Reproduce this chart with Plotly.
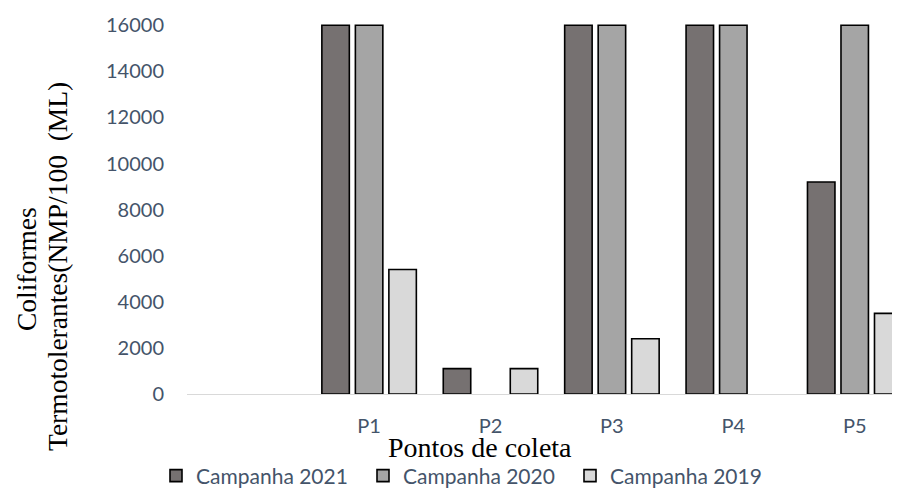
import plotly.graph_objects as go

categories = ["", "P1", "P2", "P3", "P4", "P5"]
campanha_2021 = [None, 16000, 1100, 16000, 16000, 9200]
campanha_2020 = [None, 16000, None, 16000, 16000, 16000]
campanha_2019 = [None, 5400, 1100, 2400, None, 3500]
series_names = ["Campanha 2021", "Campanha 2020", "Campanha 2019"]
series_colors = ["#767171", "#A5A5A5", "#D9D9D9"]
y_ticks = [0, 2000, 4000, 6000, 8000, 10000, 12000, 14000, 16000]
y_tick_labels = [str(v) for v in y_ticks]

fig = go.Figure()
for name, vals, col in zip(series_names, [campanha_2021, campanha_2020, campanha_2019], series_colors):
    fig.add_trace(go.Bar(
        x=categories, y=vals, name=name,
        marker=dict(color=col, line=dict(color="#000000", width=1.6)),
    ))

slate = "#44546A"
OFF = 8  # page body margin
W, H = 900 - OFF, 488 - OFF
# plot area in page coordinates
PL, PR, PT, PB = 187, 900, 16, 394
L, R, T, B = PL - OFF, (W + OFF) - PR, PT - OFF, (H + OFF) - PB
pw = PR - PL
ph = PB - PT

def px(x):
    return (x - PL) / pw

def py(y):
    return (PB - y) / ph

fig.update_layout(
    template="none",
    width=W, height=H,
    margin=dict(l=L, r=R, t=T, b=B, pad=0, autoexpand=False),
    plot_bgcolor="white", paper_bgcolor="white",
    barmode="group", bargap=0.172, bargroupgap=0.18,
    showlegend=True,
    legend=dict(orientation="h", x=px(156), y=py(476), xanchor="left", yanchor="middle",
                font=dict(family="Lato", size=21, color=slate), itemwidth=30,
                entrywidth=162, entrywidthmode="pixels",
                traceorder="normal", bgcolor="rgba(0,0,0,0)"),
    xaxis=dict(type="category", range=[-0.5, 5.373], showgrid=False, showline=True,
               linecolor="#D9D9D9", linewidth=1.3, ticks="", ticklabelstandoff=14,
               automargin=False,
               tickfont=dict(family="Lato", size=20, color=slate), zeroline=False),
    yaxis=dict(range=[0, 16400], tickvals=y_ticks, ticktext=y_tick_labels,
               showgrid=False, showline=False, automargin=False,
               zeroline=False, ticks="", ticklabelstandoff=22,
               tickfont=dict(family="Lato", size=20, color=slate)),
    annotations=[
        dict(text="Pontos de coleta", xref="paper", yref="paper", x=px(480), y=py(447),
             xanchor="center", yanchor="middle", showarrow=False,
             font=dict(family="Liberation Serif", size=28, color="#000000")),
        dict(text="Coliformes", xref="paper", yref="paper", x=px(26), y=py(269),
             xanchor="center", yanchor="middle", showarrow=False, textangle=-90,
             font=dict(family="Liberation Serif", size=27.5, color="#000000")),
        dict(text="Termotolerantes(NMP/100\u00a0 (ML)", xref="paper", yref="paper", x=px(57), y=py(267),
             xanchor="center", yanchor="middle", showarrow=False, textangle=-90,
             font=dict(family="Liberation Serif", size=27.5, color="#000000")),
    ],
)

fig.write_html("out.html")
